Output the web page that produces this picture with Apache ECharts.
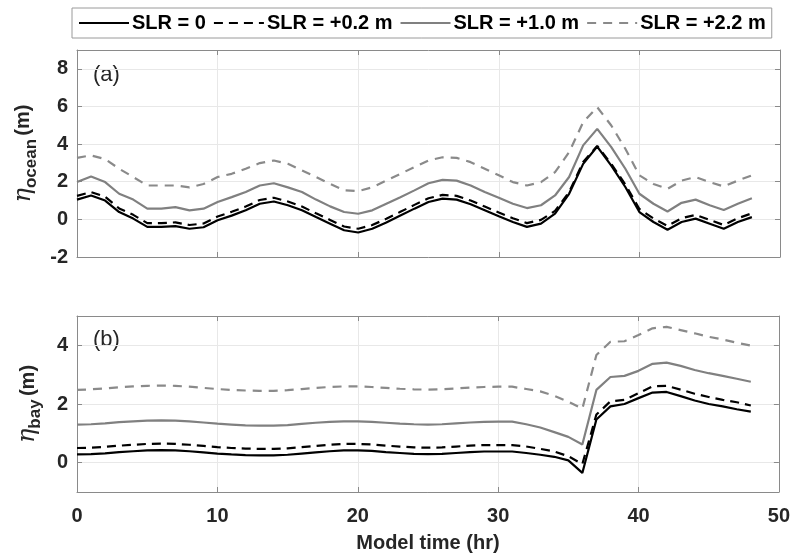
<!DOCTYPE html>
<html>
<head>
<meta charset="utf-8">
<script src="https://cdn.jsdelivr.net/npm/echarts@6/dist/echarts.min.js"></script>
<style>
html,body{margin:0;padding:0;background:#fff;}
#chart{width:793px;height:556px;}
</style>
</head>
<body>
<div id="chart"></div>
<script>
// ---- data ----
const hours = [0,1,2,3,4,5,6,7,8,9,10,11,12,13,14,15,16,17,18,19,20,21,22,23,24,25,26,27,28,29,30,31,32,33,34,35,36,37,38,39,40,41,42,43,44,45,46,47,48];
const seriesNames = ['SLR = 0', 'SLR = +0.2 m', 'SLR = +1.0 m', 'SLR = +2.2 m'];

const oceanSLR0 = [1.05,1.27,1.0,0.39,0.04,-0.4,-0.4,-0.36,-0.5,-0.42,-0.05,0.2,0.48,0.83,0.95,0.75,0.48,0.12,-0.23,-0.58,-0.7,-0.5,-0.17,0.2,0.57,0.92,1.1,1.05,0.8,0.48,0.16,-0.14,-0.4,-0.23,0.3,1.36,2.95,3.87,2.86,1.72,0.39,-0.14,-0.55,-0.14,0.04,-0.23,-0.5,-0.14,0.12];
const oceanSLR02 = [1.25,1.45,1.2,0.58,0.24,-0.2,-0.2,-0.16,-0.3,-0.22,0.15,0.4,0.68,1.03,1.15,0.95,0.68,0.32,-0.03,-0.38,-0.5,-0.3,0.03,0.4,0.77,1.12,1.3,1.25,1.0,0.68,0.36,0.06,-0.2,-0.03,0.45,1.45,3.05,3.9,2.95,1.85,0.55,0.05,-0.35,0.06,0.24,-0.03,-0.3,0.06,0.32];
const oceanSLR10 = [1.98,2.28,1.98,1.36,1.05,0.57,0.57,0.65,0.48,0.57,0.92,1.18,1.45,1.8,1.92,1.7,1.45,1.05,0.69,0.39,0.3,0.48,0.83,1.18,1.54,1.92,2.1,2.06,1.8,1.45,1.15,0.83,0.6,0.75,1.27,2.25,3.93,4.81,3.84,2.69,1.36,0.83,0.42,0.88,1.05,0.75,0.5,0.83,1.12];
const oceanSLR22 = [3.27,3.4,3.2,2.69,2.25,1.8,1.8,1.8,1.7,1.88,2.25,2.42,2.69,2.99,3.13,2.95,2.6,2.25,1.88,1.54,1.5,1.7,2.06,2.42,2.78,3.13,3.3,3.27,3.04,2.69,2.34,1.98,1.8,1.98,2.51,3.57,5.16,5.96,4.99,3.75,2.34,1.88,1.62,2.06,2.25,1.98,1.75,2.06,2.34];

const baySLR0 = [0.28,0.29,0.32,0.36,0.39,0.42,0.43,0.42,0.39,0.35,0.31,0.28,0.26,0.25,0.25,0.27,0.31,0.35,0.39,0.42,0.42,0.40,0.36,0.33,0.30,0.29,0.30,0.33,0.36,0.38,0.38,0.38,0.33,0.27,0.2,0.08,-0.35,1.47,1.92,2.0,2.2,2.39,2.41,2.27,2.12,2.0,1.92,1.82,1.74];
const baySLR02 = [0.5,0.51,0.54,0.58,0.61,0.64,0.65,0.64,0.61,0.57,0.53,0.5,0.48,0.47,0.47,0.49,0.53,0.57,0.61,0.64,0.64,0.62,0.58,0.55,0.52,0.51,0.52,0.55,0.58,0.6,0.6,0.6,0.55,0.47,0.38,0.22,-0.05,1.64,2.09,2.14,2.37,2.6,2.62,2.49,2.35,2.24,2.14,2.06,1.95];
const baySLR10 = [1.3,1.31,1.34,1.38,1.41,1.43,1.44,1.43,1.41,1.37,1.33,1.3,1.27,1.26,1.26,1.28,1.32,1.36,1.39,1.41,1.41,1.39,1.36,1.33,1.31,1.3,1.31,1.34,1.37,1.39,1.4,1.4,1.31,1.2,1.04,0.88,0.62,2.48,2.92,2.96,3.13,3.37,3.41,3.3,3.16,3.05,2.96,2.86,2.76];
const baySLR22 = [2.48,2.5,2.53,2.57,2.6,2.62,2.63,2.62,2.59,2.55,2.51,2.48,2.46,2.45,2.45,2.47,2.51,2.55,2.58,2.6,2.6,2.58,2.55,2.52,2.5,2.49,2.5,2.53,2.56,2.58,2.59,2.59,2.51,2.43,2.28,2.08,1.84,3.67,4.12,4.14,4.35,4.58,4.63,4.52,4.41,4.29,4.2,4.09,3.99];

const xTicks = [0,10,20,30,40,50];
const oceanTicks = [-2,0,2,4,6,8];
const bayTicks = [0,2,4];

// ---- styles ----
const AX = '#8a8a8a';
const TXT = '#262626';
const GRIDC = '#e8e8e8';
const styles = [
  {color:'#000000', width:2.2, type:'solid'},
  {color:'#000000', width:2.2, type:[9,6]},
  {color:'#808080', width:2.2, type:'solid'},
  {color:'#8a8a8a', width:2.2, type:[9,7]}
];

function pairs(arr){ return hours.map((h,i)=>[h, arr[i]]); }

function xAxisDef(gridIndex, pos, showLabels, name){
  const a = {
    type:'value', gridIndex, position:pos, min:0, max:50, interval:10,
    axisLine:{show:true, onZero:false, lineStyle:{color:AX, width:1}},
    axisTick:{show:true, inside:true, length:5, lineStyle:{color:AX}},
    axisLabel:{show:showLabels, color:TXT, fontSize:20, fontWeight:'bold', fontFamily:'Liberation Sans', margin:14},
    splitLine:{show: pos==='bottom', lineStyle:{color:GRIDC, width:1}}
  };
  if (name){
    a.name = name; a.nameLocation='middle'; a.nameGap=41;
    a.nameTextStyle = {color:TXT, fontSize:20, fontWeight:'bold', fontFamily:'Liberation Sans'};
  }
  return a;
}
function yAxisDef(gridIndex, pos, min, max, ticks, showLabels, nameSub){
  const a = {
    type:'value', gridIndex, position:pos, min, max,
    axisLine:{show:true, onZero:false, lineStyle:{color:AX, width:1}},
    axisTick:{show:true, inside:true, length:5, customValues:ticks, lineStyle:{color:AX}},
    axisLabel:{show:showLabels, customValues:ticks, color:TXT, fontSize:20, fontWeight:'bold', fontFamily:'Liberation Sans', margin:9},
    splitLine:{show: pos==='left', lineStyle:{color:GRIDC, width:1}}
  };
  if (nameSub){
    a.name = '{eta|η}{sub|' + nameSub + '} {m|(m)}';
    a.nameLocation = 'middle';
    a.nameGap = 34;
    a.nameTextStyle = {
      color:TXT,
      rich:{
        eta:{fontFamily:'DejaVu Serif', fontStyle:'italic', fontSize:24, color:TXT, lineHeight:30, verticalAlign:'middle'},
        sub:{fontFamily:'Liberation Sans', fontWeight:'bold', fontSize:17, color:TXT, lineHeight:30, padding:[14,0,0,0], verticalAlign:'middle'},
        m:{fontFamily:'Liberation Sans', fontWeight:'bold', fontSize:20, color:TXT, lineHeight:30, verticalAlign:'middle'}
      }
    };
  }
  return a;
}

const oceanData = [oceanSLR0, oceanSLR02, oceanSLR10, oceanSLR22];
const bayData = [baySLR0, baySLR02, baySLR10, baySLR22];

const series = [];
[oceanData, bayData].forEach((set, p)=>{
  set.forEach((arr, i)=>{
    series.push({
      name: seriesNames[i], type:'line', xAxisIndex: p*2, yAxisIndex: p*2,
      data: pairs(arr), symbol:'none', smooth:false, animation:false,
      lineStyle:{color:styles[i].color, width:styles[i].width, type:styles[i].type},
      itemStyle:{color:styles[i].color}, z: 10 - i
    });
  });
});

const chart = echarts.init(document.getElementById('chart'), null, {renderer:'canvas'});
chart.setOption({
  animation:false,
  backgroundColor:'#ffffff',
  grid:[
    {left:77, right:13, top:50, height:207},
    {left:77, right:13, top:316, height:176}
  ],
  legend:{
    data: seriesNames, left:72, top:8, orient:'horizontal',
    padding:[5,6,5,6], itemGap:7, itemWidth:50, itemHeight:14,
    borderColor:'#9a9a9a', borderWidth:1,
    itemStyle:{opacity:0},
    textStyle:{color:'#000', fontSize:20, fontWeight:'bold', fontFamily:'Liberation Sans', padding:[0,0,0,-2]}
  },
  xAxis:[
    xAxisDef(0,'bottom',false),
    xAxisDef(0,'top',false),
    xAxisDef(1,'bottom',true,'Model time (hr)'),
    xAxisDef(1,'top',false)
  ],
  yAxis:[
    yAxisDef(0,'left',-2,9,oceanTicks,true,'ocean'),
    yAxisDef(0,'right',-2,9,oceanTicks,false),
    yAxisDef(1,'left',-1,5,bayTicks,true,'bay'),
    yAxisDef(1,'right',-1,5,bayTicks,false)
  ],
  graphic:[
    {type:'text', left:93, top:64, style:{text:'(a)', font:'22px "Liberation Sans"', fill:TXT}},
    {type:'text', left:93, top:329, style:{text:'(b)', font:'22px "Liberation Sans"', fill:TXT}}
  ],
  series
});
</script>
</body>
</html>
